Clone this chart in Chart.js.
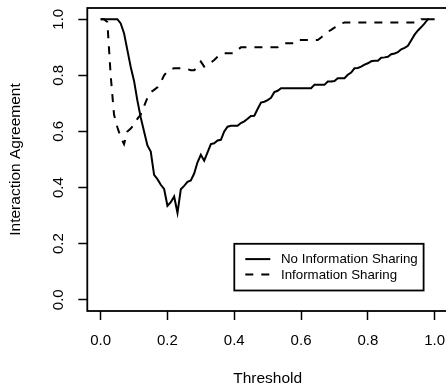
<!DOCTYPE html>
<html>
<head>
<meta charset="utf-8">
<script src="https://cdn.jsdelivr.net/npm/chart.js@4/dist/chart.umd.min.js"></script>
<style>
html,body{margin:0;padding:0;background:#fff;overflow:hidden;}
#c{display:block;}
</style>
</head>
<body>
<canvas id="c" width="448" height="390" style="width:448px;height:390px"></canvas>
<script>
const thresholds = [0,0.01,0.02,0.03,0.04,0.05,0.06,0.07,0.08,0.09,0.10,0.11,0.12,0.13,0.14,0.15,0.16,0.17,0.18,0.19,0.20,0.21,0.22,0.23,0.24,0.25,0.26,0.27,0.28,0.29,0.30,0.31,0.32,0.33,0.34,0.35,0.36,0.37,0.38,0.39,0.40,0.41,0.42,0.43,0.44,0.45,0.46,0.47,0.48,0.49,0.50,0.51,0.52,0.53,0.54,0.55,0.56,0.57,0.58,0.59,0.60,0.61,0.62,0.63,0.64,0.65,0.66,0.67,0.68,0.69,0.70,0.71,0.72,0.73,0.74,0.75,0.76,0.77,0.78,0.79,0.80,0.81,0.82,0.83,0.84,0.85,0.86,0.87,0.88,0.89,0.90,0.91,0.92,0.93,0.94,0.95,0.96,0.97,0.98,0.99,1.00];

const noSharing = [1.0,1.0,1.0,1.0,1.0,1.0,0.985,0.95,0.89,0.83,0.78,0.71,0.65,0.60,0.55,0.528,0.445,0.43,0.41,0.395,0.335,0.348,0.368,0.31,0.394,0.406,0.42,0.425,0.45,0.49,0.517,0.496,0.525,0.555,0.558,0.568,0.57,0.60,0.617,0.62,0.62,0.62,0.63,0.636,0.645,0.655,0.656,0.68,0.703,0.706,0.712,0.72,0.74,0.745,0.754,0.754,0.754,0.754,0.754,0.754,0.754,0.754,0.754,0.754,0.766,0.766,0.766,0.766,0.778,0.778,0.78,0.79,0.79,0.79,0.802,0.81,0.825,0.826,0.831,0.838,0.843,0.85,0.852,0.852,0.863,0.864,0.866,0.875,0.878,0.883,0.893,0.898,0.905,0.925,0.945,0.96,0.972,0.985,1.0,1.0,1.0];

const sharing = [1.0,1.0,0.99,0.80,0.66,0.615,0.58,0.555,0.60,0.61,0.625,0.645,0.66,0.69,0.72,0.74,0.748,0.757,0.775,0.80,0.815,0.822,0.825,0.825,0.825,0.825,0.822,0.818,0.818,0.83,0.849,0.831,0.838,0.845,0.855,0.866,0.875,0.879,0.879,0.879,0.879,0.89,0.90,0.90,0.90,0.90,0.90,0.90,0.90,0.90,0.90,0.90,0.90,0.90,0.91,0.914,0.914,0.914,0.914,0.926,0.926,0.926,0.926,0.926,0.926,0.926,0.935,0.945,0.955,0.962,0.97,0.976,0.985,0.988,0.988,0.988,0.988,0.988,0.988,0.988,0.988,0.988,0.988,0.988,0.988,0.988,0.988,0.988,0.988,0.988,0.988,0.988,0.988,0.988,0.988,0.988,1.0,1.0,1.0,1.0,1.0];

const seriesLabels = ['No Information Sharing', 'Information Sharing'];
const xTicks = [0, 0.2, 0.4, 0.6, 0.8, 1.0];
const yTicks = [0, 0.2, 0.4, 0.6, 0.8, 1.0];
const xTitle = 'Threshold';
const yTitle = 'Interaction Agreement';

const FONT = '"Liberation Sans", Arial, Helvetica, sans-serif';

const boxPlugin = {
  id: 'rbox',
  afterDraw(chart) {
    const a = chart.chartArea, ctx = chart.ctx;
    ctx.save();
    ctx.strokeStyle = '#000';
    ctx.lineWidth = 1.8;
    ctx.strokeRect(a.left, a.top, a.right - a.left, a.bottom - a.top);
    ctx.restore();
  }
};

// R-style vertical y tick labels, placed at the y scale's tick pixels
const yLabelPlugin = {
  id: 'ryLabels',
  afterDraw(chart) {
    const s = chart.scales.y, ctx = chart.ctx;
    ctx.save();
    ctx.font = '15px ' + FONT;
    ctx.fillStyle = '#000';
    ctx.textAlign = 'center';
    ctx.textBaseline = 'middle';
    s.ticks.forEach(t => {
      const y = s.getPixelForValue(t.value);
      ctx.save();
      ctx.translate(s.right - 28.6, y);
      ctx.rotate(-Math.PI / 2);
      ctx.fillText(Number(t.value).toFixed(1), 0, 0);
      ctx.restore();
    });
    ctx.restore();
  }
};

const legendPlugin = {
  id: 'rlegend',
  afterDraw(chart) {
    const ctx = chart.ctx, a = chart.chartArea;
    const x1 = a.right - 24.4, y1 = a.bottom - 20.5;
    const x0 = x1 - 189.3, y0 = y1 - 46.7;
    ctx.save();
    ctx.fillStyle = '#fff';
    ctx.fillRect(x0, y0, x1 - x0, y1 - y0);
    ctx.strokeStyle = '#000';
    ctx.lineWidth = 1.8;
    ctx.setLineDash([]);
    ctx.strokeRect(x0, y0, x1 - x0, y1 - y0);
    ctx.font = '13.3px ' + FONT;
    ctx.textBaseline = 'middle';
    ctx.textAlign = 'left';
    ctx.fillStyle = '#000';
    chart.data.datasets.forEach((ds, i) => {
      const y = y0 + 15.3 + i * 15.4;
      ctx.lineWidth = ds.borderWidth;
      ctx.setLineDash(ds.borderDash || []);
      ctx.beginPath();
      ctx.moveTo(x0 + 11, y);
      ctx.lineTo(x0 + 36, y);
      ctx.stroke();
      ctx.setLineDash([]);
      ctx.fillText(ds.label, x0 + 46.7, y + 0.5);
    });
    ctx.restore();
  }
};

new Chart(document.getElementById('c'), {
  type: 'line',
  data: {
    datasets: [
      {label: seriesLabels[0], data: thresholds.map((t, i) => ({x: t, y: noSharing[i]})), borderColor: '#000', borderWidth: 2, pointRadius: 0, tension: 0, fill: false},
      {label: seriesLabels[1], data: thresholds.map((t, i) => ({x: t, y: sharing[i]})), borderColor: '#000', borderWidth: 2, borderDash: [8, 8], pointRadius: 0, tension: 0, fill: false}
    ]
  },
  options: {
    responsive: false,
    animation: false,
    devicePixelRatio: 1,
    layout: {padding: {top: 8, left: 0, right: 0, bottom: 0}},
    plugins: {legend: {display: false}, tooltip: {enabled: false}},
    scales: {
      x: {
        type: 'linear', min: -0.04, max: 1.04,
        afterBuildTicks: s => { s.ticks = xTicks.map(v => ({value: v})); },
        afterFit: s => { s.height = 79; s.paddingLeft = 0; s.paddingRight = 0; },
        ticks: {callback: v => Number(v).toFixed(1), color: '#000', font: {family: FONT, size: 15}, padding: 12, maxRotation: 0, minRotation: 0},
        grid: {drawOnChartArea: false, drawTicks: true, tickLength: 9, tickColor: '#000', tickWidth: 1.5},
        border: {display: false},
        title: {display: true, text: xTitle, color: '#000', font: {family: FONT, size: 15.5}, padding: {top: 0, bottom: 1.5}}
      },
      y: {
        type: 'linear', min: -0.04, max: 1.04,
        afterBuildTicks: s => { s.ticks = yTicks.map(v => ({value: v})); },
        afterFit: s => { s.width = 87.3; s.paddingTop = 0; s.paddingBottom = 0; },
        ticks: {display: false},
        grid: {drawOnChartArea: false, drawTicks: true, tickLength: 9, tickColor: '#000', tickWidth: 1.5},
        border: {display: false},
        title: {display: true, text: yTitle, color: '#000', font: {family: FONT, size: 15.5}, padding: {top: 6.7, bottom: 0}}
      }
    }
  },
  plugins: [boxPlugin, yLabelPlugin, legendPlugin]
});
</script>
</body>
</html>
